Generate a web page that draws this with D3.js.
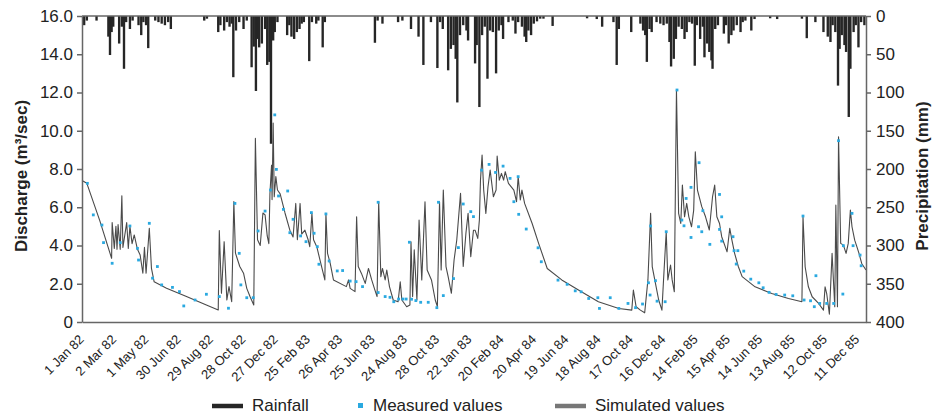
<!DOCTYPE html>
<html>
<head>
<meta charset="utf-8">
<script src="https://cdn.jsdelivr.net/npm/d3@7"></script>
<style>
  body { margin: 0; background: #fff; }
  svg { font-family: "Liberation Sans", Arial, sans-serif; }
</style>
</head>
<body>
<div id="plot"></div>
<script>
// day index counted from 1 Jan 1982
var tickLabels = ["1 Jan 82", "2 Mar 82", "1 May 82", "30 Jun 82", "29 Aug 82", "28 Oct 82",
  "27 Dec 82", "25 Feb 83", "26 Apr 83", "25 Jun 83", "24 Aug 83", "28 Oct 83", "22 Jan 83",
  "20 Feb 84", "20 Apr 84", "19 Jun 84", "18 Aug 84", "17 Oct 84", "16 Dec 84", "14 Feb 85",
  "15 Apr 85", "14 Jun 85", "13 Aug 85", "12 Oct 85", "11 Dec 85"];
var tickDays = tickLabels.map(function(d, i) { return i * 60; });

// rainfall [day, mm]
var rainfall = [
  [4,12],[9,6],[27,6],[49,27],[52,51],[55,21],[58,14],[69,36],[74,14],[78,69],[82,8],[89,17],
  [94,6],[105,12],[110,25],[114,8],[119,12],[123,42],[136,6],[142,8],[148,10],[154,12],[160,8],
  [165,17],[227,6],[232,3.5],[253,21],[257,12],[264,19],[269,8],[274,14],[278,10],[281,80],
  [286,19],[292,8],[300,17],[306,6],[315,67],[319,40],[323,98],[326,30],[329,41],[334,36],
  [340,17],[344,64],[348,60],[351,167],[355,32],[358,21],[363,8],[381,25],[385,12],[389,27],
  [394,30],[399,21],[404,17],[408,10],[412,8],[422,59],[427,8],[435,10],[439,6],[447,41],
  [451,8],[544,35],[549,6],[558,10],[587,8],[595,6],[611,17],[625,27],[634,64],[648,8],
  [660,68],[665,8],[670,17],[680,71],[685,43],[690,38],[694,56],[697,113],[702,25],[708,12],
  [714,19],[717,32],[730,62],[733,38],[738,119],[743,25],[748,14],[753,82],[758,19],[763,21],
  [769,75],[774,19],[779,12],[782,30],[792,8],[800,6],[805,23],[810,8],[817,14],[822,27],
  [825,34],[829,19],[834,25],[839,10],[845,7],[851,3.5],[857,3.5],[874,13],[938,3],[956,4],
  [966,14],[987,8],[993,64],[997,17],[1020,21],[1037,10],[1042,19],[1046,25],[1049,60],
  [1054,17],[1058,21],[1067,8],[1074,10],[1080,12],[1086,10],[1091,34],[1094,66],[1099,56],
  [1103,30],[1108,14],[1114,17],[1119,30],[1123,21],[1128,8],[1133,10],[1138,65],[1142,12],
  [1148,30],[1153,14],[1156,54],[1161,36],[1165,47],[1169,58],[1171,69],[1176,17],[1181,12],
  [1192,23],[1196,12],[1201,36],[1206,25],[1210,19],[1216,12],[1223,21],[1227,8],[1232,6],
  [1243,19],[1249,4],[1278,3],[1291,4],[1337,3.5],[1346,29],[1362,8],[1377,21],[1385,27],
  [1390,34],[1394,12],[1399,21],[1404,91],[1407,43],[1411,25],[1416,38],[1419,47],[1424,132],
  [1427,69],[1433,21],[1437,12],[1442,41],[1447,8],[1453,12]
];

// simulated discharge [day, m3/s]
var simulated = [
  [0,7.4],[9,7.25],[33,5.3],[55,3.33],[56,5.2],[60,3.85],[63,5.0],[65,3.8],[67,5.1],[71,3.8],
  [74,6.6],[76,3.9],[83,5.2],[86,3.85],[89,5.0],[93,4.1],[97,4.55],[103,3.8],[108,3.5],
  [113,2.55],[116,3.9],[119,2.55],[125,4.9],[129,2.8],[134,2.1],[157,1.76],[194,1.33],
  [231,0.89],[253,0.63],[255,4.78],[259,1.5],[264,4.2],[269,1.15],[273,1.85],[278,1.06],
  [282,6.3],[285,3.6],[293,2.9],[300,2.55],[306,1.76],[312,1.33],[319,0.89],[322,9.6],
  [326,4.3],[331,4.0],[336,5.7],[340,5.6],[344,4.5],[347,4.1],[349,6.7],[352,8.2],[353,6.4],
  [355,10.4],[357,6.55],[360,7.6],[363,6.9],[368,6.7],[377,5.7],[386,4.8],[392,4.45],
  [397,6.2],[400,4.3],[405,6.2],[408,4.6],[414,4.8],[420,4.3],[423,3.94],[427,5.68],
  [430,4.3],[436,3.94],[442,3.24],[451,2.2],[453,5.68],[456,3.59],[461,3.07],[467,2.2],
  [491,1.85],[495,2.2],[498,1.76],[507,1.59],[510,5.5],[513,2.9],[519,2.54],[526,2.02],
  [532,2.8],[538,2.2],[544,1.67],[548,1.33],[551,6.29],[555,2.37],[558,2.8],[563,2.2],
  [566,2.72],[571,1.85],[578,1.15],[587,1.06],[591,2.1],[594,1.15],[603,0.8],[609,0.89],
  [611,4.2],[614,1.33],[617,3.77],[622,1.15],[626,5.33],[631,2.2],[637,6.29],[641,2.72],
  [649,2.2],[656,1.15],[660,0.8],[664,6.29],[667,2.72],[671,6.9],[676,2.9],[680,2.37],
  [686,1.5],[691,3.24],[696,4.29],[703,6.73],[708,2.9],[713,4.64],[717,5.68],[722,3.42],
  [727,4.8],[730,4.8],[735,4.37],[738,5.33],[740,7.4],[743,8.73],[746,6.9],[750,5.68],
  [754,7.07],[758,7.94],[761,7.25],[764,6.55],[769,6.9],[771,8.68],[775,7.42],[779,7.77],
  [783,7.42],[786,7.86],[792,7.25],[802,6.9],[807,6.29],[810,7.6],[814,6.38],[817,6.9],
  [822,6.2],[836,5.15],[848,4.11],[864,2.8],[891,2.2],[922,1.67],[959,1.06],[997,0.71],
  [1021,0.62],[1024,1.67],[1029,0.8],[1037,0.62],[1045,0.48],[1051,2.2],[1056,5.68],
  [1059,2.9],[1065,2.02],[1071,1.15],[1077,0.62],[1080,2.2],[1085,4.72],[1088,2.2],
  [1093,2.98],[1096,2.2],[1100,1.58],[1104,12.13],[1108,5.68],[1112,5.15],[1115,7.16],
  [1119,5.5],[1123,6.2],[1127,5.5],[1132,4.98],[1136,5.85],[1139,8.9],[1143,6.9],[1147,6.46],
  [1151,6.03],[1158,5.5],[1165,4.81],[1171,6.55],[1175,7.16],[1179,5.5],[1184,5.15],
  [1188,4.46],[1198,3.67],[1203,4.9],[1207,4.28],[1212,3.59],[1219,2.89],[1226,2.37],
  [1250,1.84],[1281,1.49],[1312,1.23],[1337,1.06],[1339,5.5],[1343,2.89],[1349,1.84],
  [1356,1.32],[1368,0.97],[1377,0.62],[1380,1.84],[1383,1.49],[1388,0.41],[1393,3.59],
  [1398,0.8],[1400,6.11],[1403,0.8],[1405,9.69],[1409,4.11],[1414,4.02],[1419,3.59],
  [1423,4.11],[1427,5.85],[1430,4.98],[1435,4.28],[1439,3.94],[1443,3.59],[1448,3.06],
  [1456,2.72]
];

// measured discharge [day, m3/s]
var measured = [
  [10,7.25],[21,5.6],[37,5.07],[40,4.15],[56,3.07],[71,4.15],[89,5.02],[103,3.85],[105,3.24],
  [125,5.16],[131,2.29],[140,2.9],[148,1.94],[168,1.81],[181,1.59],[189,0.84],[210,1.15],
  [231,1.45],[255,1.33],[272,0.72],[284,6.2],[292,3.59],[295,1.94],[306,1.27],[318,1.27],
  [327,4.76],[340,5.8],[350,6.9],[358,10.83],[361,7.98],[365,6.59],[374,5.89],[382,6.85],
  [386,4.67],[392,5.37],[406,4.5],[416,4.2],[426,5.72],[431,4.64],[437,3.94],[440,3.02],
  [453,5.65],[459,3.19],[474,2.67],[484,2.69],[498,2.14],[509,2.11],[521,1.85],[550,6.26],
  [550,1.54],[563,1.33],[572,1.29],[579,1.06],[588,1.2],[596,1.2],[602,1.2],[608,4.17],
  [612,1.19],[620,1.12],[629,1.03],[643,1.03],[659,0.75],[662,6.26],[671,1.38],[690,2.27],
  [699,3.89],[708,6.17],[722,5.77],[727,5.51],[742,7.94],[756,8.24],[768,7.82],[782,8.15],
  [795,7.51],[802,6.29],[810,7.6],[811,5.63],[825,4.86],[847,3.88],[853,3.15],[884,2.19],
  [901,1.97],[916,1.63],[927,1.58],[941,1.23],[958,1.27],[961,0.71],[981,1.27],[997,0.71],
  [1014,0.97],[1028,0.75],[1041,0.94],[1052,2.05],[1056,5.02],[1055,1.41],[1065,2.16],
  [1068,1.09],[1083,1.06],[1085,4.72],[1105,12.13],[1114,5.33],[1118,5.03],[1122,6.46],
  [1131,7.04],[1131,4.42],[1145,4.98],[1146,8.33],[1151,4.72],[1153,5.82],[1166,4.06],
  [1184,6.67],[1184,4.84],[1188,5.5],[1188,4.23],[1209,4.46],[1211,3.73],[1218,3.73],
  [1215,3.03],[1229,2.66],[1242,2.24],[1257,2.05],[1265,1.79],[1276,1.55],[1289,1.44],
  [1305,1.41],[1320,1.37],[1339,5.54],[1341,1.15],[1353,1.11],[1363,2.42],[1360,0.8],
  [1370,0.97],[1383,0.97],[1396,0.97],[1405,9.48],[1413,1.46],[1414,3.99],[1430,5.68],
  [1432,3.99],[1445,3.5],[1447,2.94]
];

var W = 937, H = 415;
var plotLeft = 82, plotRight = 866, plotTop = 16, plotBottom = 322;
var axisColor = "#666", textColor = "#222";

var svg = d3.select("#plot").append("svg")
  .attr("width", W)
  .attr("height", H);

var x = d3.scaleLinear().domain([0, 1456]).range([plotLeft, plotRight]);
var yQ = d3.scaleLinear().domain([0, 16]).range([plotBottom, plotTop]);
var yP = d3.scaleLinear().domain([0, 400]).range([plotTop, plotBottom]);

// rainfall bars hanging from the top
var barW = x(4.4) - x(0);
svg.append("g")
  .selectAll("rect")
  .data(rainfall)
  .enter().append("rect")
  .attr("x", function(d) { return x(d[0]) - barW / 2; })
  .attr("y", plotTop)
  .attr("width", barW)
  .attr("height", function(d) { return yP(d[1]) - plotTop; })
  .attr("fill", "#262626");

// simulated line
var line = d3.line()
  .x(function(d) { return x(d[0]); })
  .y(function(d) { return yQ(d[1]); });

svg.append("path")
  .datum(simulated)
  .attr("d", line)
  .attr("fill", "none")
  .attr("stroke", "#4a4a4a")
  .attr("stroke-width", 1.1)
  .attr("stroke-linejoin", "round");

// measured points
svg.append("g")
  .selectAll("rect")
  .data(measured)
  .enter().append("rect")
  .attr("x", function(d) { return x(d[0]) - 1.4; })
  .attr("y", function(d) { return yQ(d[1]) - 1.4; })
  .attr("width", 2.8)
  .attr("height", 2.8)
  .attr("fill", "#2aa9e0");

// axes
var leftAxis = svg.append("g")
  .attr("transform", "translate(" + plotLeft + ",0)")
  .call(d3.axisLeft(yQ)
    .tickValues(d3.range(0, 17, 2))
    .tickSize(5)
    .tickSizeOuter(0)
    .tickPadding(4)
    .tickFormat(function(d) { return d === 0 ? "0" : d3.format(".1f")(d); }));

var rightAxis = svg.append("g")
  .attr("transform", "translate(" + plotRight + ",0)")
  .call(d3.axisRight(yP)
    .tickValues(d3.range(0, 401, 50))
    .tickSize(5)
    .tickSizeOuter(0)
    .tickPadding(5));

var bottomAxis = svg.append("g")
  .attr("transform", "translate(0," + plotBottom + ")")
  .call(d3.axisBottom(x)
    .tickValues(tickDays)
    .tickSize(0)
    .tickSizeOuter(0)
    .tickFormat(function(d, i) { return tickLabels[i]; }));

bottomAxis.selectAll("text")
  .attr("y", 0)
  .attr("dy", "0.35em")
  .attr("transform", "translate(-1,15) rotate(-45)")
  .style("text-anchor", "end")
  .style("font-size", "13px");

// top border line
svg.append("line")
  .attr("x1", plotLeft).attr("x2", plotRight)
  .attr("y1", plotTop).attr("y2", plotTop)
  .attr("stroke", axisColor)
  .attr("stroke-width", 1.5);

[leftAxis, rightAxis, bottomAxis].forEach(function(g) {
  g.select(".domain").attr("stroke", axisColor).attr("stroke-width", 1.5);
  g.selectAll(".tick line").attr("stroke", axisColor).attr("stroke-width", 1.5);
  g.selectAll("text").attr("fill", textColor).style("font-family", "'Liberation Sans', Arial, sans-serif");
});
leftAxis.selectAll("text").style("font-size", "17px");
rightAxis.selectAll("text").style("font-size", "17px");

// axis titles
svg.append("text")
  .attr("transform", "translate(27,176) rotate(-90)")
  .attr("text-anchor", "middle")
  .style("font-size", "17px")
  .style("font-weight", "bold")
  .attr("fill", textColor)
  .text("Discharge (m\u00b3/sec)");

svg.append("text")
  .attr("transform", "translate(928,176) rotate(-90)")
  .attr("text-anchor", "middle")
  .style("font-size", "17px")
  .style("font-weight", "bold")
  .attr("fill", textColor)
  .text("Precipitation (mm)");

// legend
var legend = svg.append("g").style("font-size", "17px").attr("fill", textColor);
legend.append("line")
  .attr("x1", 212).attr("x2", 243).attr("y1", 406).attr("y2", 406)
  .attr("stroke", "#262626").attr("stroke-width", 4.5);
legend.append("text").attr("x", 252).attr("y", 411).text("Rainfall");
legend.append("rect")
  .attr("x", 358).attr("y", 403).attr("width", 5).attr("height", 5)
  .attr("fill", "#2aa9e0");
legend.append("text").attr("x", 373).attr("y", 411).text("Measured values");
legend.append("line")
  .attr("x1", 555).attr("x2", 586).attr("y1", 406).attr("y2", 406)
  .attr("stroke", "#777").attr("stroke-width", 4.5);
legend.append("text").attr("x", 595).attr("y", 411).text("Simulated values");
</script>
</body>
</html>
